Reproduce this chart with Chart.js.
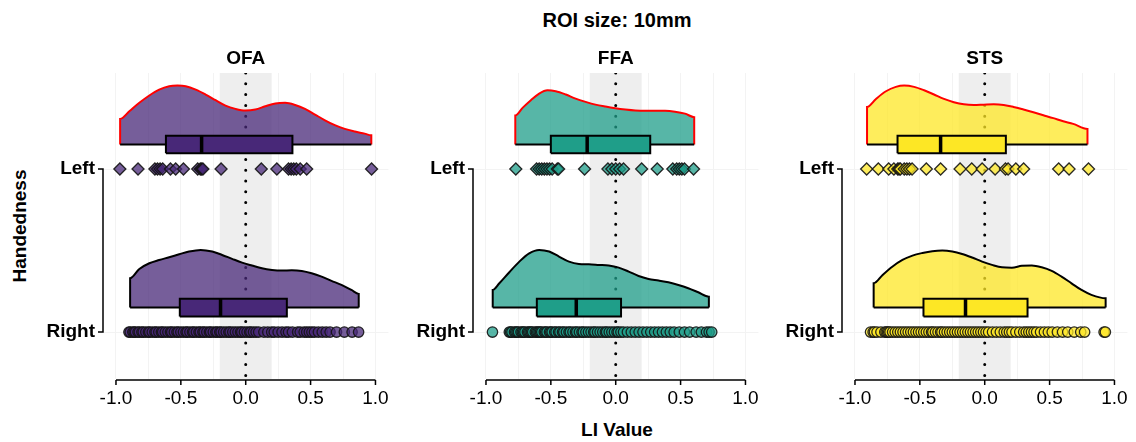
<!DOCTYPE html>
<html>
<head>
<meta charset="utf-8">
<script src="https://cdn.jsdelivr.net/npm/chart.js@4.4.0/dist/chart.umd.min.js"></script>
<style>
  body { margin: 0; background: #fff; width: 1136px; height: 442px; position: relative; overflow: hidden;
         font-family: "Liberation Sans", Arial, sans-serif; }
  canvas { position: absolute; top: 0; }
  .lbl { position: absolute; font-weight: bold; font-size: 19px; color: #000; text-align: center;
         line-height: 22px; white-space: nowrap; }
</style>
</head>
<body>
<div class="lbl" style="left:467px;width:300px;top:9px;font-size:20px">ROI size: 10mm</div>
<div class="lbl" style="left:517px;width:200px;top:419px">LI Value</div>
<div class="lbl" style="left:-40px;width:120px;top:215px;transform:rotate(-90deg)">Handedness</div>
<canvas id="ofa" width="367" height="442" style="left:30px"></canvas>
<canvas id="ffa" width="369" height="442" style="left:398px"></canvas>
<canvas id="sts" width="369" height="442" style="left:767px"></canvas>
<script>
// ---- data ----
const regions = ["OFA", "FFA", "STS"];
const regionColors = ["#482878", "#1f9e89", "#fde725"];
const xTicks = [-1, -0.75, -0.5, -0.25, 0, 0.25, 0.5, 0.75, 1];

// individual LI values (diamonds = Left, circles = Right)
const ofaLeft = [-0.97, -0.83, -0.70, -0.68, -0.66, -0.64, -0.58, -0.54, -0.48, -0.37, -0.35, -0.34, -0.33,
  -0.19, 0.12, 0.24, 0.33, 0.35, 0.37, 0.39, 0.42, 0.47, 0.97];
const ofaRight = [-0.90, -0.89, -0.87, -0.86, -0.85, -0.83, -0.82, -0.80, -0.79, -0.77, -0.75, -0.74, -0.72,
  -0.70, -0.69, -0.67, -0.65, -0.64, -0.62, -0.60, -0.58, -0.57, -0.55, -0.53, -0.52, -0.50, -0.48, -0.46,
  -0.45, -0.43, -0.41, -0.40, -0.38, -0.36, -0.35, -0.33, -0.32, -0.30, -0.28, -0.27, -0.25, -0.23, -0.22,
  -0.20, -0.19, -0.17, -0.15, -0.13, -0.12, -0.10, -0.08, -0.06, -0.04, -0.03, -0.01, 0.01, 0.03, 0.04,
  0.06, 0.08, 0.10, 0.14, 0.17, 0.20, 0.22, 0.25, 0.28, 0.31, 0.33, 0.36, 0.40, 0.42, 0.45, 0.47, 0.49,
  0.51, 0.53, 0.56, 0.59, 0.62, 0.65, 0.70, 0.76, 0.82, 0.87];
const ffaLeft = [-0.77, -0.61, -0.59, -0.57, -0.55, -0.53, -0.51, -0.49, -0.45, -0.44, -0.24, -0.06, -0.03,
  0.00, 0.03, 0.06, 0.20, 0.32, 0.44, 0.47, 0.49, 0.51, 0.53, 0.60];
const ffaRight = [-0.95, -0.82, -0.81, -0.80, -0.78, -0.77, -0.76, -0.75, -0.73, -0.72, -0.71, -0.70, -0.68,
  -0.67, -0.66, -0.65, -0.64, -0.62, -0.61, -0.60, -0.59, -0.58, -0.57, -0.55, -0.54, -0.53, -0.51, -0.50,
  -0.49, -0.47, -0.46, -0.44, -0.43, -0.41, -0.40, -0.38, -0.36, -0.35, -0.33, -0.31, -0.30, -0.28, -0.26,
  -0.25, -0.23, -0.21, -0.19, -0.17, -0.16, -0.14, -0.12, -0.10, -0.08, -0.07, -0.05, -0.03, -0.01, 0.01,
  0.02, 0.04, 0.06, 0.09, 0.12, 0.15, 0.18, 0.21, 0.24, 0.27, 0.30, 0.33, 0.36, 0.39, 0.42, 0.45, 0.49,
  0.53, 0.57, 0.62, 0.66, 0.70, 0.72, 0.74];
const stsLeft = [-0.91, -0.82, -0.74, -0.70, -0.67, -0.66, -0.65, -0.62, -0.60, -0.58, -0.56, -0.45, -0.34,
  -0.19, -0.10, -0.02, 0.08, 0.16, 0.18, 0.24, 0.30, 0.57, 0.65, 0.80];
const stsRight = [-0.88, -0.86, -0.85, -0.83, -0.80, -0.77, -0.76, -0.75, -0.74, -0.73, -0.71, -0.69, -0.67,
  -0.65, -0.63, -0.61, -0.59, -0.57, -0.55, -0.53, -0.51, -0.49, -0.47, -0.45, -0.43, -0.41, -0.40, -0.38,
  -0.36, -0.34, -0.33, -0.31, -0.29, -0.27, -0.25, -0.23, -0.21, -0.19, -0.17, -0.15, -0.13, -0.11, -0.09,
  -0.07, -0.05, -0.03, -0.01, 0.01, 0.03, 0.06, 0.09, 0.12, 0.15, 0.17, 0.19, 0.21, 0.24, 0.27, 0.30, 0.32,
  0.34, 0.36, 0.38, 0.40, 0.43, 0.46, 0.49, 0.52, 0.56, 0.60, 0.64, 0.69, 0.74, 0.77, 0.92, 0.93];

// half-violin outlines: x positions and slab heights (in y units)
const ofaLeftDx = [-0.968, -0.897, -0.820, -0.743, -0.667, -0.590, -0.526, -0.462, -0.385, -0.309, -0.232,
  -0.156, -0.079, -0.003, 0.074, 0.151, 0.228, 0.304, 0.381, 0.457, 0.534, 0.611, 0.687, 0.764, 0.841, 0.917, 0.968];
const ofaLeftDh = [0.157, 0.204, 0.256, 0.301, 0.337, 0.358, 0.362, 0.358, 0.337, 0.307, 0.272, 0.239, 0.219,
  0.209, 0.215, 0.235, 0.252, 0.256, 0.243, 0.219, 0.184, 0.149, 0.119, 0.096, 0.080, 0.067, 0.057];
const ofaRightDx = [-0.891, -0.820, -0.743, -0.667, -0.590, -0.513, -0.437, -0.347, -0.258, -0.182, -0.105,
  -0.028, 0.048, 0.125, 0.202, 0.278, 0.355, 0.432, 0.508, 0.585, 0.661, 0.738, 0.815, 0.871];
const ofaRightDh = [0.180, 0.237, 0.272, 0.292, 0.309, 0.327, 0.344, 0.354, 0.344, 0.323, 0.299, 0.276, 0.258,
  0.241, 0.231, 0.227, 0.229, 0.225, 0.211, 0.190, 0.164, 0.139, 0.108, 0.084];
const ffaLeftDx = [-0.774, -0.718, -0.654, -0.590, -0.526, -0.462, -0.385, -0.309, -0.232, -0.156, -0.079,
  -0.003, 0.074, 0.151, 0.228, 0.304, 0.381, 0.457, 0.534, 0.605];
const ffaLeftDh = [0.178, 0.225, 0.272, 0.313, 0.333, 0.327, 0.307, 0.282, 0.262, 0.245, 0.233, 0.223, 0.215,
  0.209, 0.207, 0.207, 0.207, 0.202, 0.190, 0.168];
const ffaRightDx = [-0.948, -0.897, -0.820, -0.743, -0.667, -0.590, -0.513, -0.437, -0.360, -0.284, -0.207,
  -0.130, -0.054, 0.023, 0.100, 0.176, 0.253, 0.330, 0.406, 0.483, 0.559, 0.636, 0.718];
const ffaRightDh = [0.108, 0.149, 0.217, 0.282, 0.333, 0.354, 0.344, 0.313, 0.282, 0.268, 0.266, 0.262, 0.258,
  0.245, 0.221, 0.194, 0.176, 0.166, 0.155, 0.139, 0.119, 0.094, 0.067];
const stsLeftDx = [-0.907, -0.838, -0.761, -0.685, -0.621, -0.544, -0.467, -0.391, -0.314, -0.238, -0.161,
  -0.084, -0.008, 0.069, 0.146, 0.222, 0.299, 0.375, 0.452, 0.529, 0.605, 0.682, 0.792];
const stsLeftDh = [0.231, 0.280, 0.327, 0.354, 0.362, 0.354, 0.333, 0.307, 0.280, 0.260, 0.247, 0.243, 0.245,
  0.247, 0.243, 0.231, 0.215, 0.198, 0.180, 0.162, 0.143, 0.127, 0.096];
const stsRightDx = [-0.856, -0.787, -0.710, -0.634, -0.557, -0.480, -0.404, -0.327, -0.250, -0.174, -0.097,
  -0.020, 0.056, 0.133, 0.209, 0.286, 0.363, 0.439, 0.516, 0.592, 0.669, 0.746, 0.822, 0.932];
const stsRightDh = [0.149, 0.200, 0.252, 0.292, 0.319, 0.335, 0.346, 0.350, 0.344, 0.329, 0.307, 0.282, 0.262,
  0.247, 0.245, 0.256, 0.258, 0.247, 0.225, 0.190, 0.149, 0.108, 0.078, 0.057];

// boxes: [Q1, median, Q3]
const ofaLeftBox = [-0.615, -0.34, 0.36];
const ofaRightBox = [-0.508, -0.194, 0.317];
const ffaLeftBox = [-0.50, -0.22, 0.266];
const ffaRightBox = [-0.608, -0.304, 0.041];
const stsLeftBox = [-0.672, -0.34, 0.163];
const stsRightBox = [-0.472, -0.148, 0.33];

// ---- layout constants (y: Right = 1, Left = 2) ----
const Y_MIN = 0.712, Y_MAX = 2.589;
const SLAB_OFFSET = 0.15;   // cloud baseline / box centre above the dots
const BOX_HALF = 0.054;

Chart.defaults.font.family = '"Liberation Sans", Arial, sans-serif';

function rgba(hex, a) {
  const n = parseInt(hex.slice(1), 16);
  return `rgba(${n >> 16},${(n >> 8) & 255},${n & 255},${a})`;
}

// axis lines, bracket and panel title
const decor = {
  id: "decor",
  afterDraw(chart, args, opts) {
    const { ctx, chartArea } = chart;
    const x = chart.scales.x, y = chart.scales.y;
    ctx.save();
    ctx.strokeStyle = "#000";
    ctx.lineWidth = 1.5;
    const yb = chartArea.bottom + 1;
    ctx.beginPath();
    ctx.moveTo(x.getPixelForValue(-1), yb);
    ctx.lineTo(x.getPixelForValue(1), yb);
    xTicks.filter(v => Number.isInteger(v * 2)).forEach(v => {
      ctx.moveTo(x.getPixelForValue(v), yb);
      ctx.lineTo(x.getPixelForValue(v), yb + 5);
    });
    const xl = chartArea.left;
    ctx.moveTo(xl - 5, y.getPixelForValue(2));
    ctx.lineTo(xl, y.getPixelForValue(2));
    ctx.lineTo(xl, y.getPixelForValue(1));
    ctx.lineTo(xl - 5, y.getPixelForValue(1));
    ctx.stroke();
    ctx.fillStyle = "#000";
    ctx.font = 'bold 19px "Liberation Sans", Arial, sans-serif';
    ctx.textAlign = "center";
    ctx.textBaseline = "middle";
    ctx.fillText(opts.title, x.getPixelForValue(0), chartArea.top - 14);
    ctx.restore();
  }
};

function groupDatasets(level, pts, dx, dh, box, color, style, edge) {
  const base = level + SLAB_OFFSET;
  const cloud = [{ x: dx[0], y: base }];
  dx.forEach((v, i) => cloud.push({ x: v, y: base + dh[i] }));
  cloud.push({ x: dx[dx.length - 1], y: base });
  const lo = base - BOX_HALF, hi = base + BOX_HALF;
  return [
    { data: pts.map(v => ({ x: v, y: level })), showLine: false, pointStyle: style,
      pointRadius: style === "rectRot" ? 6 : 5.2, pointBackgroundColor: rgba(color, 0.75),
      pointBorderColor: "rgba(20,20,20,0.9)", pointBorderWidth: 1.3, order: 0 },
    { data: [{ x: box[1], y: lo }, { x: box[1], y: hi }], borderColor: "#000", borderWidth: 3.5,
      pointRadius: 0, order: 1 },
    { data: [{ x: box[0], y: lo }, { x: box[0], y: hi }, { x: box[2], y: hi }, { x: box[2], y: lo }, { x: box[0], y: lo }],
      fill: "shape", backgroundColor: color, borderColor: "#000", borderWidth: 2, pointRadius: 0, order: 2 },
    { data: [{ x: dx[0], y: base }, { x: dx[dx.length - 1], y: base }], borderColor: "#000", borderWidth: 2,
      pointRadius: 0, order: 3 },
    { data: cloud, fill: "shape", backgroundColor: rgba(color, 0.75), borderColor: edge, borderWidth: 2,
      cubicInterpolationMode: "monotone", pointRadius: 0, order: 4 }
  ];
}

function buildPanel(id, title, color, left, right, axisW) {
  const datasets = [
    ...groupDatasets(2, left.pts, left.dx, left.dh, left.box, color, "rectRot", "#ff0000"),
    ...groupDatasets(1, right.pts, right.dx, right.dh, right.box, color, "circle", "#000"),
    { data: [{ x: 0, y: Y_MAX }, { x: 0, y: Y_MIN }], borderColor: "#000", borderWidth: 3,
      borderDash: [0, 10.8], borderCapStyle: "round", pointRadius: 0, order: 5 },
    { data: [{ x: -0.2, y: Y_MIN }, { x: -0.2, y: Y_MAX }, { x: 0.2, y: Y_MAX }, { x: 0.2, y: Y_MIN }],
      fill: "shape", backgroundColor: "#eeeeee", borderWidth: 0, pointRadius: 0, order: 6 }
  ];
  return new Chart(document.getElementById(id), {
    type: "line",
    data: { datasets },
    plugins: [decor],
    options: {
      responsive: false,
      animation: false,
      events: [],
      layout: { padding: { top: 73, right: 6, left: 0, bottom: 0 } },
      plugins: { legend: { display: false }, tooltip: { enabled: false }, decor: { title } },
      scales: {
        x: {
          type: "linear", min: -1.1, max: 1.1,
          afterBuildTicks: s => { s.ticks = xTicks.map(v => ({ value: v })); },
          afterFit: s => { s.height = 63; },
          grid: { color: "#f3f3f3", drawTicks: false },
          border: { display: false },
          ticks: {
            autoSkip: false, maxRotation: 0, padding: 8, color: "#000", font: { size: 19 },
            callback: v => Number.isInteger(v * 2) ? v.toFixed(1) : ""
          }
        },
        y: {
          type: "linear", min: Y_MIN, max: Y_MAX,
          afterBuildTicks: s => { s.ticks = [{ value: 1 }, { value: 2 }]; },
          afterFit: s => { s.width = axisW; },
          grid: { color: "#f3f3f3", drawTicks: false },
          border: { display: false },
          ticks: {
            padding: 8, color: "#000", font: { size: 19, weight: "bold" },
            callback: v => v === 2 ? "Left" : "Right"
          }
        }
      }
    }
  });
}

buildPanel("ofa", regions[0], regionColors[0],
  { pts: ofaLeft, dx: ofaLeftDx, dh: ofaLeftDh, box: ofaLeftBox },
  { pts: ofaRight, dx: ofaRightDx, dh: ofaRightDh, box: ofaRightBox }, 73);
buildPanel("ffa", regions[1], regionColors[1],
  { pts: ffaLeft, dx: ffaLeftDx, dh: ffaLeftDh, box: ffaLeftBox },
  { pts: ffaRight, dx: ffaRightDx, dh: ffaRightDh, box: ffaRightBox }, 75);
buildPanel("sts", regions[2], regionColors[2],
  { pts: stsLeft, dx: stsLeftDx, dh: stsLeftDh, box: stsLeftBox },
  { pts: stsRight, dx: stsRightDx, dh: stsRightDh, box: stsRightBox }, 75);
</script>
</body>
</html>
